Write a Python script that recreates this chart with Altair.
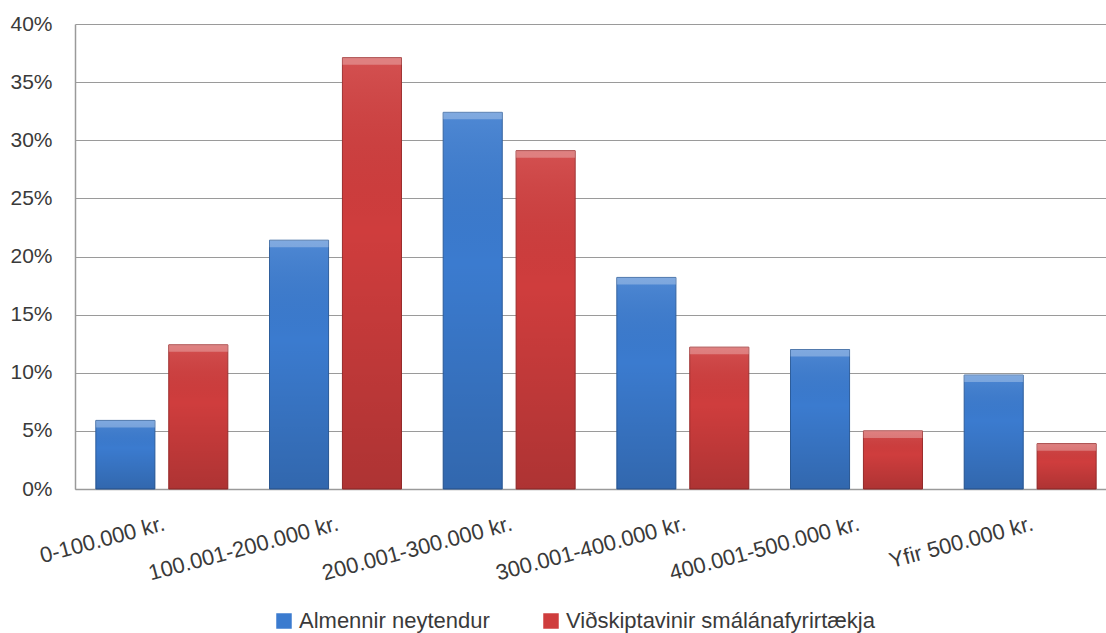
import altair as alt
import pandas as pd

# Income brackets and share of respondents in each group
categories = [
    "0-100.000 kr.",
    "100.001-200.000 kr.",
    "200.001-300.000 kr.",
    "300.001-400.000 kr.",
    "400.001-500.000 kr.",
    "Yfir 500.000 kr.",
]
series = ["Almennir neytendur", "Viðskiptavinir smálánafyrirtækja"]
almennir = [0.059, 0.214, 0.324, 0.182, 0.120, 0.098]
smalan = [0.124, 0.371, 0.291, 0.122, 0.050, 0.039]
colors = ["#3b7bcf", "#cf3d3d"]
edge_colors = ["#2c5d9c", "#9c2c2c"]

rows = []
for cat, a, s in zip(categories, almennir, smalan):
    rows.append({"category": cat, "series": series[0], "value": a})
    rows.append({"category": cat, "series": series[1], "value": s})
df = pd.DataFrame(rows)

FONT = "Liberation Sans"
TEXT = "#3a3a3a"

x_enc = alt.X(
    "category:N",
    sort=categories,
    title=None,
    scale=alt.Scale(range=[0, 1042], paddingInner=0.24, paddingOuter=0.12),
    axis=alt.Axis(
        labelAngle=345,
        labelFontSize=22,
        labelFont=FONT,
        labelColor=TEXT,
        labelPadding=24,
        tickSize=0,
        domainColor="#9a9a9a",
        domainWidth=1.5,
        grid=False,
        labelLimit=0,
    ),
)
xoff_enc = alt.XOffset(
    "series:N", sort=series, scale=alt.Scale(paddingInner=0.19, paddingOuter=0)
)
y_enc = alt.Y(
    "value:Q",
    title=None,
    scale=alt.Scale(domain=[0, 0.4], nice=False),
    axis=alt.Axis(
        values=[0, 0.05, 0.1, 0.15, 0.2, 0.25, 0.3, 0.35, 0.4],
        format=".0%",
        labelFontSize=21,
        labelFont=FONT,
        labelColor=TEXT,
        labelPadding=23,
        tickSize=0,
        domainColor="#9a9a9a",
        domainWidth=1.5,
        gridColor="#9a9a9a",
        gridWidth=1.2,
    ),
)

base = alt.Chart(df).encode(x=x_enc, xOffset=xoff_enc, y=y_enc)

bars = base.mark_bar().encode(
    color=alt.Color(
        "series:N",
        sort=series,
        scale=alt.Scale(domain=series, range=colors),
        legend=alt.Legend(
            title=None,
            orient="none",
            direction="horizontal",
            legendX=198,
            legendY=586,
            symbolType="square",
            symbolSize=240,
            symbolStrokeWidth=0,
            labelFontSize=22,
            labelFont=FONT,
            labelColor=TEXT,
            labelLimit=0,
            labelOffset=4,
            columnPadding=50,
            padding=0,
        ),
    ),
    stroke=alt.Stroke(
        "series:N", sort=series, scale=alt.Scale(domain=series, range=edge_colors), legend=None
    ),
)

# Vertical shading to give the bars a rounded, lit look
shade = base.mark_bar(
    fill=alt.LinearGradient(
        gradient="linear",
        x1=0, x2=0, y1=0, y2=1,
        stops=[
            alt.GradientStop(color="rgba(255,255,255,0.10)", offset=0),
            alt.GradientStop(color="rgba(0,0,0,0.0)", offset=0.4),
            alt.GradientStop(color="rgba(0,0,0,0.16)", offset=1),
        ],
    )
)

# Light bevel strip along the top of each bar
bevel = base.mark_bar(y2Offset=7, fill="white", fillOpacity=0.28).encode(
    y2=alt.Y2("value:Q")
)

chart = (
    alt.layer(bars, shade, bevel)
    .properties(
        width=1031,
        height=465,
        autosize=alt.AutoSizeParams(type="none"),
        padding={"left": 75, "top": 24, "right": 0, "bottom": 144},
        background="white",
    )
    .configure_view(stroke=None)
)

chart.save("out.html", embed_options={"renderer": "svg", "actions": False})
